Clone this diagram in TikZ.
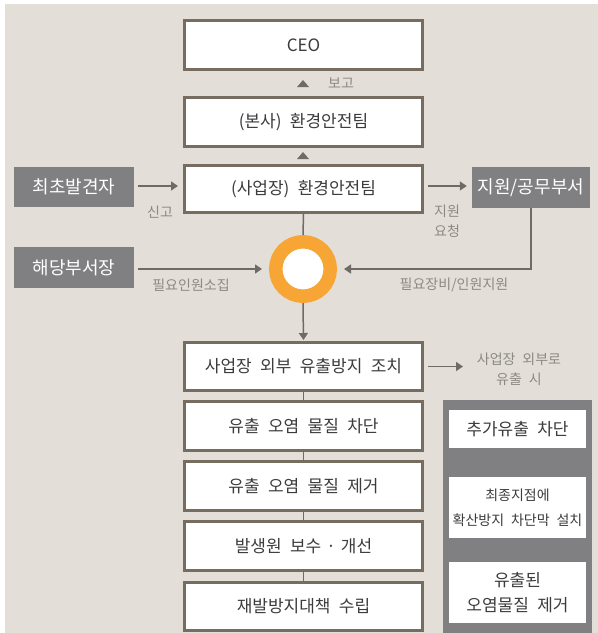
\documentclass[tikz,border=0pt]{standalone}
\usepackage{fontspec}
\setmainfont[WordSpace=2.2]{Noto Sans CJK KR}
\usetikzlibrary{arrows.meta}
\definecolor{bgc}{HTML}{E3DFD8}
\definecolor{brd}{HTML}{776C60}
\definecolor{gbox}{HTML}{807F82}
\definecolor{orng}{HTML}{F7A535}
\definecolor{lnc}{HTML}{6F6A65}
\definecolor{lbl}{HTML}{8C8884}
\definecolor{txt}{HTML}{3C3C3C}
\tikzset{
  mainbox/.style={draw=brd, line width=3pt, fill=white, minimum width=238pt, inner sep=0pt, text=txt, font=\fontsize{17}{19}\selectfont},
  graybox/.style={fill=gbox, minimum width=120pt, minimum height=40pt, inner sep=0pt, text=white, font=\fontsize{18}{20}\selectfont},
  panelbox/.style={fill=white, minimum width=137pt, inner sep=0pt, text=txt, align=center},
  lab/.style={text=lbl, font=\fontsize{14}{20}\selectfont, align=center, inner sep=0pt},
  conn/.style={draw=lnc, line width=1.5pt},
  arr/.style={conn, -{Triangle[length=7pt,width=9pt]}},
  upmarker/.style={fill=lnc}
}
\begin{document}
\begin{tikzpicture}[x=1pt,y=-1pt]
\useasboundingbox (0,0) rectangle (598,633);
\fill[bgc] (5,4) rectangle (598,633);
\fill[gbox] (443,400) rectangle (592,633);

% main column
\node[mainbox, minimum height=49pt] (ceo) at (303.5,45) {CEO};
\node[mainbox, minimum height=49pt] (hq) at (303.5,122) {(본사) 환경안전팀};
\node[mainbox, minimum height=47pt] (site) at (303.5,189) {(사업장) 환경안전팀};
\node[mainbox, minimum height=48pt] (b1) at (303.5,366.5) {사업장 외부 유출방지 조치};
\node[mainbox, minimum height=49pt] (b2) at (303.5,426) {유출 오염 물질 차단};
\node[mainbox, minimum height=49pt] (b3) at (303.5,486) {유출 오염 물질 제거};
\node[mainbox, minimum height=49pt] (b4) at (303.5,546) {발생원 보수\hspace{5pt}·\hspace{5pt}개선};
\node[mainbox, minimum height=48pt] (b5) at (303.5,606.5) {재발방지대책 수립};

% gray boxes
\node[graybox] (finder) at (74,187) {최초발견자};
\node[graybox, minimum height=41pt] (dept) at (74,267.5) {해당부서장};
\node[graybox, minimum width=118pt, minimum height=41pt] (supp) at (531,187.5) {지원/공무부서};

% circle
\node[circle, draw=orng, line width=13.5pt, fill=white, minimum size=54.5pt, inner sep=0pt] (hub) at (303,269) {};

% right panel
\node[panelbox, minimum height=38pt, font=\fontsize{17}{19}\selectfont] (p1) at (517.5,429) {추가유출 차단};
\node[panelbox, minimum height=61pt, font=\fontsize{14}{25}\selectfont] (p2) at (517.5,507.5) {최종지점에\\확산방지 차단막 설치};
\node[panelbox, minimum height=61pt, font=\fontsize{17}{25}\selectfont] (p3) at (517.5,592.5) {유출된\\오염물질 제거};

% markers
\fill[upmarker] (297,87) -- (309,87) -- (303,80) -- cycle;
\fill[upmarker] (297,159) -- (309,159) -- (303,152) -- cycle;
\node[lab] (lbogo) at (341,83) {보고};

% connectors
\draw[arr, shorten <=4pt, shorten >=5pt] (finder.east |- 0,186) -- (site.west |- 0,186);
\node[lab] (lsingo) at (160,212) {신고};
\draw[arr, shorten <=4pt, shorten >=5pt] (site.east |- 0,186) -- (supp.west |- 0,186);
\node[lab] (lreq) at (447,221) {지원\\요청};
\draw[conn] (site.south) -- (hub.north);
\draw[arr, shorten <=4pt, shorten >=7pt] (dept.east |- hub.center) -- (hub.west);
\node[lab] (lcall) at (191,285) {필요인원소집};
\draw[arr, shorten >=7pt] (supp.south) |- (hub.east);
\node[lab] (lsupp) at (454,285) {필요장비/인원지원};
\draw[arr, shorten >=1pt] (hub.south) -- (b1.north);
\draw[arr, shorten <=4pt, shorten >=5pt] (b1.east) -- ++(44,0) coordinate (outend);
\node[lab] (lout) at (519,369) {사업장 외부로\\유출 시};
\draw[conn] (b1.south) -- (b2.north);
\draw[conn] (b2.south) -- (b3.north);
\draw[conn] (b3.south) -- (b4.north);
\draw[conn] (b4.south) -- (b5.north);
\end{tikzpicture}
\end{document}
